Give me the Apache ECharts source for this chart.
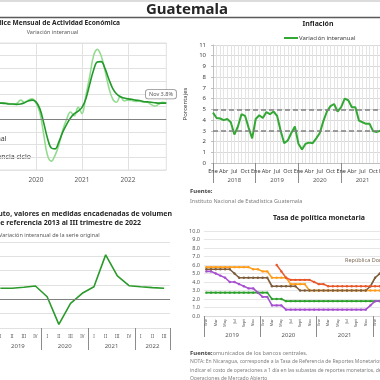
<!DOCTYPE html>
<html><head><meta charset="utf-8">
<script src="https://cdn.jsdelivr.net/npm/echarts@6/dist/echarts.min.js"></script>
<style>html,body{margin:0;padding:0;background:#fff}#c{width:380px;height:380px}</style>
</head><body><div id="c"></div>
<script>
const FONT = 'Noto Sans';

// ---- Panel 1: Índice Mensual de Actividad Económica (Jan 2019 - Nov 2022) ----
const imaeYears = ['2019', '2020', '2021', '2022'];
const imaeOriginal = [3.5, 4.0, 3.9, 3.8, 3.9, 3.6, 3.5, 3.7, 4.5, 4.0, 4.5, 4.8,
  3.8, 1.6, -3.5, -8.5, -9.9, -8.5, -6.0, -2.5, 0.0, 1.7, 0.8, 2.8,
  1.3, 5.5, 10.0, 14.9, 16.5, 15.0, 11.5, 7.5, 4.8, 4.0, 5.4, 4.3,
  4.5, 4.4, 4.2, 4.3, 4.0, 4.0, 3.5, 3.1, 3.5, 4.0, 3.8];
const imaeTrend = [3.7, 3.7, 3.8, 3.8, 3.7, 3.6, 3.6, 3.5, 3.6, 3.9, 4.3, 4.5,
  4.1, 2.5, -0.8, -4.5, -6.8, -7.0, -5.3, -3.0, -1.2, 0.3, 1.3, 1.9,
  2.8, 4.8, 8.2, 11.5, 13.5, 13.6, 12.0, 9.5, 7.3, 6.0, 5.3, 5.0,
  4.8, 4.7, 4.5, 4.4, 4.2, 4.1, 4.0, 3.9, 3.8, 3.8, 3.8];
const imaeLastLabel = 'Nov 3.8%';

// ---- Panel 2: Inflación (Jan 2018 - Dec 2021) ----
const inflYears = ['2018', '2019', '2020', '2021', '2022'];
const inflMonthNames = ['Ene', 'Feb', 'Mar', 'Abr', 'May', 'Jun', 'Jul', 'Ago', 'Sep', 'Oct', 'Nov', 'Dic'];
const inflation = [4.7, 4.2, 4.15, 4.0, 4.1, 3.8, 2.65, 3.4, 4.55, 4.4, 3.3, 2.3,
  4.1, 4.45, 4.2, 4.75, 4.55, 4.8, 4.4, 3.0, 1.85, 2.1, 2.8, 3.4,
  1.8, 1.25, 1.8, 1.9, 1.85, 2.3, 2.8, 3.9, 4.8, 5.3, 5.5, 4.8,
  5.2, 6.0, 5.85, 5.2, 5.2, 3.95, 3.8, 3.65, 3.65, 2.95, 2.9, 3.0];
const inflTargetBand = [3, 5];

// ---- Panel 3: PIB trimestral ----
const gdpYears = ['2019', '2020', '2021', '2022'];
const gdpQuarterCounts = [4, 4, 4, 3];
const quarterNames = ['I', 'II', 'III', 'IV'];
const gdp = [3.85, 3.85, 4.2, 4.65, 0.9, -8.75, -1.4, 2.1, 4.4, 15.5, 8.15, 4.75, 4.4, 4.1, 3.85];

// ---- Panel 4: Tasa de política monetaria (Jan 2019 - ) ----
const tpmYears = ['2019', '2020', '2021', '2022'];
const tpmMonthNames = ['Ene', 'Feb', 'Mar', 'Abr', 'May', 'Jun', 'Jul', 'Ago', 'Sept', 'Oct', 'Nov', 'Dic'];
const tpmHonduras = [5.75, 5.75, 5.75, 5.75, 5.75, 5.75, 5.75, 5.75, 5.75, 5.75, 5.5, 5.5,
  5.25, 5.25, 4.5, 4.5, 4.5, 4.5, 3.75, 3.75, 3.75, 3.75, 3.0, 3.0,
  3.0, 3.0, 3.0, 3.0, 3.0, 3.0, 3.0, 3.0, 3.0, 3.0, 3.0, 3.0, 3.0, 3.0];
const tpmRepDom = [5.5, 5.5, 5.5, 5.5, 5.5, 5.5, 5.0, 4.5, 4.5, 4.5, 4.5, 4.5,
  4.5, 4.5, 3.5, 3.5, 3.5, 3.5, 3.5, 3.5, 3.0, 3.0, 3.0, 3.0,
  3.0, 3.0, 3.0, 3.0, 3.0, 3.0, 3.0, 3.0, 3.0, 3.0, 3.0, 3.5, 4.5, 5.0];
const tpmCostaRica = [5.25, 5.25, 5.0, 4.75, 4.5, 4.0, 4.0, 3.75, 3.5, 3.25, 3.25, 2.75,
  2.25, 2.25, 1.25, 1.25, 1.25, 0.75, 0.75, 0.75, 0.75, 0.75, 0.75, 0.75,
  0.75, 0.75, 0.75, 0.75, 0.75, 0.75, 0.75, 0.75, 0.75, 0.75, 0.75, 1.25, 1.75, 1.75];
const tpmGuatemala = [2.75, 2.75, 2.75, 2.75, 2.75, 2.75, 2.75, 2.75, 2.75, 2.75, 2.75, 2.75,
  2.75, 2.75, 2.0, 2.0, 2.0, 1.75, 1.75, 1.75, 1.75, 1.75, 1.75, 1.75,
  1.75, 1.75, 1.75, 1.75, 1.75, 1.75, 1.75, 1.75, 1.75, 1.75, 1.75, 1.75, 1.75, 1.75];
const tpmNicaragua = [null, null, null, null, null, null, null, null, null, null, null, null,
  null, null, null, 6.0, 5.25, 4.5, 4.25, 4.25, 4.25, 4.25, 4.25, 4.0,
  3.75, 3.75, 3.5, 3.5, 3.5, 3.5, 3.5, 3.5, 3.5, 3.5, 3.5, 3.5, 3.5, 3.5];

// ---- categories ----
const imaeCats = [];
imaeYears.forEach(y => inflMonthNames.forEach(m => imaeCats.push(y + ' ' + m)));
imaeCats.length = imaeOriginal.length;
const inflCats = [];
inflYears.forEach(y => inflMonthNames.forEach(m => inflCats.push(y + ' ' + m)));
inflCats.push('2023 Ene');
const gdpCats = [];
gdpYears.forEach((y, k) => { for (let q = 0; q < gdpQuarterCounts[k]; q++) gdpCats.push(y + ' ' + quarterNames[q]); });
const tpmCats = [];
tpmYears.forEach(y => tpmMonthNames.forEach(m => tpmCats.push(y + ' ' + m)));

function yearTicks(counts) { const t = [0]; counts.forEach(c => t.push(t[t.length - 1] + c)); return t; }
function yearCenters(counts) { const t = yearTicks(counts); return counts.map((c, i) => t[i] + c / 2); }
const inflCounts = inflYears.map(() => 12);
const tpmCounts = tpmYears.map(() => 12);

const gridLine = '#e1e1e1';
const txt = '#404040';

const chart = echarts.init(document.getElementById('c'), null, { renderer: 'canvas' });

function yearAxis(gridIndex, counts, names, tickLen, labelMargin) {
  const ticks = yearTicks(counts), centers = yearCenters(counts);
  return {
    gridIndex, type: 'value', position: 'bottom', min: 0, max: ticks[ticks.length - 1],
    axisLine: { show: false },
    axisTick: { show: true, customValues: ticks, length: tickLen, lineStyle: { color: '#8c8c8c', width: 1 } },
    axisLabel: { show: true, customValues: centers, margin: labelMargin, fontSize: 6, color: '#595959', fontFamily: FONT, hideOverlap: false,
      formatter: v => { const i = centers.findIndex(c => Math.abs(c - v) < 1e-6); return i >= 0 ? names[i] : ''; } },
    splitLine: { show: false }
  };
}

const gridBase = { outerBoundsMode: 'none', containLabel: false };

const option = {
  animation: false,
  textStyle: { fontFamily: FONT },
  legend: {
    data: ['Variación interanual'], left: 284, top: 35, icon: 'rect', itemWidth: 14, itemHeight: 2, itemGap: 2,
    padding: 0, textStyle: { fontSize: 6, color: txt, fontFamily: FONT, padding: [0, 0, 0, -4] }
  },
  grid: [
    Object.assign({ left: -10, top: 43, width: 176.3, height: 127, show: true, borderColor: gridLine, borderWidth: 1 }, gridBase),
    Object.assign({ left: 213, top: 45, width: 213.6, height: 118 }, gridBase),
    Object.assign({ left: -5.5, top: 242, width: 175.5, height: 86 }, gridBase),
    Object.assign({ left: 204, top: 231, width: 225, height: 85 }, gridBase)
  ],
  xAxis: [
    { gridIndex: 0, type: 'category', boundaryGap: false, data: imaeCats,
      axisLine: { show: false }, axisTick: { show: false },
      axisLabel: { interval: i => i % 12 === 0, formatter: v => v.slice(0, 4), fontSize: 6.5, color: '#595959', margin: 7, hideOverlap: false },
      splitLine: { show: true, interval: i => i % 12 === 0, lineStyle: { color: gridLine } } },
    { gridIndex: 1, type: 'category', boundaryGap: false, data: inflCats,
      axisLine: { show: true, lineStyle: { color: '#bfbfbf' } }, axisTick: { show: false },
      axisLabel: { interval: i => i % 3 === 0, formatter: v => v.slice(5), fontSize: 5.5, color: txt, margin: 5, hideOverlap: false },
      splitLine: { show: true, interval: 0, lineStyle: { color: '#e4e4e4' } } },
    yearAxis(1, inflCounts, inflYears, 20, 14),
    { gridIndex: 2, type: 'category', boundaryGap: true, data: gdpCats,
      axisLine: { show: true, lineStyle: { color: '#d9d9d9' } }, axisTick: { show: false },
      axisLabel: { interval: 0, formatter: v => v.split(' ')[1], fontSize: 4.5, color: '#595959', margin: 6, hideOverlap: false },
      splitLine: { show: false } },
    yearAxis(2, gdpQuarterCounts, gdpYears, 22, 15),
    { gridIndex: 3, type: 'category', boundaryGap: true, data: tpmCats,
      axisLine: { show: true, lineStyle: { color: '#d9d9d9' } }, axisTick: { show: false },
      axisLabel: { interval: 1, rotate: 90, formatter: v => v.split(' ')[1], fontSize: 4, color: '#595959', margin: 3, hideOverlap: false },
      splitLine: { show: false } },
    yearAxis(3, tpmCounts, tpmYears, 21, 16)
  ],
  yAxis: [
    { gridIndex: 0, type: 'value', min: -12, max: 18, interval: 3,
      axisLabel: { show: false }, axisLine: { show: false }, axisTick: { show: false },
      splitLine: { lineStyle: { color: gridLine } } },
    { gridIndex: 1, type: 'value', min: 0, max: 11, interval: 1,
      axisLabel: { fontSize: 6, color: txt, margin: 7 },
      axisLine: { show: true, lineStyle: { color: '#bfbfbf' } }, axisTick: { show: true, length: 2, lineStyle: { color: '#bfbfbf' } },
      name: 'Porcentajes', nameLocation: 'middle', nameGap: 17, nameRotate: 90,
      nameTextStyle: { fontSize: 6, color: txt },
      splitLine: { lineStyle: { color: '#d9d9d9' } } },
    { gridIndex: 2, type: 'value', min: -10, max: 20, interval: 5,
      axisLabel: { show: false }, axisLine: { show: false }, axisTick: { show: false },
      splitLine: { lineStyle: { color: gridLine } } },
    { gridIndex: 3, type: 'value', min: 0, max: 10, interval: 1,
      axisLabel: { fontSize: 5.5, color: '#595959', margin: 4, formatter: v => v.toFixed(1) },
      axisLine: { show: false }, axisTick: { show: false },
      splitLine: { lineStyle: { color: '#e6e6e6' } } }
  ],
  series: [
    { name: 'Original', type: 'line', xAxisIndex: 0, yAxisIndex: 0, data: imaeOriginal, smooth: 0.4,
      symbol: 'none', lineStyle: { color: '#93dc8f', width: 1.6 }, z: 3,
      markLine: { silent: true, symbol: 'none', label: { show: false }, lineStyle: { color: '#808080', type: 'solid', width: 1 }, data: [{ yAxis: 0 }] } },
    { name: 'Tendencia ciclo', type: 'line', xAxisIndex: 0, yAxisIndex: 0, data: imaeTrend, smooth: 0.4,
      symbol: 'none', lineStyle: { color: '#22992a', width: 1.6 }, z: 4 },
    { name: 'Variación interanual', type: 'line', xAxisIndex: 1, yAxisIndex: 1, data: inflation,
      symbol: 'none', itemStyle: { color: '#34a834' }, lineStyle: { color: '#34a834', width: 2 }, z: 4,
      markLine: { silent: true, symbol: 'none', label: { show: false }, lineStyle: { color: '#808080', type: [5, 3], width: 1.5 },
        data: inflTargetBand.map(v => ({ yAxis: v })) } },
    { name: 'PIB', type: 'line', xAxisIndex: 3, yAxisIndex: 2, data: gdp,
      symbol: 'none', lineStyle: { color: '#2a9a2a', width: 1.6 }, z: 4,
      markLine: { silent: true, symbol: 'none', label: { show: false }, lineStyle: { color: '#808080', type: 'solid', width: 1 }, data: [{ yAxis: 0 }] } },
    ...[
      ['Guatemala', tpmGuatemala, '#2ca02c'],
      ['Costa Rica', tpmCostaRica, '#a64fd0'],
      ['Honduras', tpmHonduras, '#ff9d1c'],
      ['República Dominicana', tpmRepDom, '#7d5c3b'],
      ['Nicaragua', tpmNicaragua, '#e8582b']
    ].map(([n, d, c]) => ({
      name: n, type: 'line', xAxisIndex: 5, yAxisIndex: 3, data: d,
      symbol: 'circle', symbolSize: 2.4, showAllSymbol: true,
      itemStyle: { color: c }, lineStyle: { color: c, width: 1.6 }
    }))
  ],
  graphic: [
    { type: 'line', shape: { x1: 0, y1: 1, x2: 380, y2: 1 }, style: { stroke: '#d0d0d0', lineWidth: 1.5 } },
    { type: 'line', shape: { x1: 0, y1: 17.5, x2: 380, y2: 17.5 }, style: { stroke: '#5a5a5a', lineWidth: 1.5 } },
    { type: 'text', x: 187, y: 10, style: { text: 'Guatemala', font: 'bold 15px ' + FONT, fill: '#262626', align: 'center', verticalAlign: 'middle' } },
    { type: 'text', x: 120, y: 23.5, style: { text: 'Índice Mensual de Actividad Económica', font: 'bold 6.6px ' + FONT, fill: '#262626', align: 'right', verticalAlign: 'middle' } },
    { type: 'text', x: 52.5, y: 32.5, style: { text: 'Variación interanual', font: '5.5px ' + FONT, fill: '#595959', align: 'center', verticalAlign: 'middle' } },
    { type: 'text', x: 6.5, y: 139, style: { text: 'Original', font: '7px ' + FONT, fill: txt, align: 'right', verticalAlign: 'middle' } },
    { type: 'text', x: 31, y: 157, style: { text: 'Tendencia ciclo', font: '7px ' + FONT, fill: txt, align: 'right', verticalAlign: 'middle' } },
    { type: 'text', x: 146, y: 90, z: 10, style: { text: imaeLastLabel, font: '5.5px ' + FONT, fill: '#595959', align: 'left', verticalAlign: 'top',
      backgroundColor: '#fff', borderColor: '#8c8c8c', borderWidth: 0.8, borderRadius: 2, padding: [1.5, 3, 1, 3] } },
    { type: 'text', x: 318, y: 23.5, style: { text: 'Inflación', font: 'bold 7px ' + FONT, fill: '#262626', align: 'center', verticalAlign: 'middle' } },
    { type: 'text', x: 190, y: 191, style: { text: 'Fuente:', font: 'bold 6px ' + FONT, fill: txt, align: 'left', verticalAlign: 'middle' } },
    { type: 'text', x: 190, y: 201, style: { text: 'Instituto Nacional de Estadística Guatemala', font: '5.5px ' + FONT, fill: '#808080', align: 'left', verticalAlign: 'middle' } },
    { type: 'text', x: 319, y: 218, style: { text: 'Tasa de política monetaria', font: 'bold 7px ' + FONT, fill: '#262626', align: 'center', verticalAlign: 'middle' } },
    { type: 'text', x: 345, y: 260, style: { text: 'República Dominicana', font: '5.5px ' + FONT, fill: '#7d6a58', align: 'left', verticalAlign: 'middle' } },
    { type: 'text', x: 172, y: 214, style: { text: 'Producto Interno Bruto, valores en medidas encadenadas de volumen', font: 'bold 7px ' + FONT, fill: '#262626', align: 'right', verticalAlign: 'middle' } },
    { type: 'text', x: 141, y: 223, style: { text: 'con año de referencia 2013 al III trimestre de 2022', font: 'bold 7px ' + FONT, fill: '#262626', align: 'right', verticalAlign: 'middle' } },
    { type: 'text', x: -1, y: 235.5, style: { text: 'Variación interanual de la serie original', font: '5.5px ' + FONT, fill: '#595959', align: 'left', verticalAlign: 'middle' } },
    { type: 'text', x: 190, y: 353, style: { text: 'Fuente:', font: 'bold 6px ' + FONT, fill: txt, align: 'left', verticalAlign: 'middle' } },
    { type: 'text', x: 210, y: 353, style: { text: 'comunicados de los bancos centrales.', font: '5.5px ' + FONT, fill: '#808080', align: 'left', verticalAlign: 'middle' } },
    { type: 'text', x: 190, y: 362, style: { text: 'NOTA: En Nicaragua, corresponde a la Tasa de Referencia de Reportes Monetarios (TRM), la cual', font: '5px ' + FONT, fill: '#808080', align: 'left', verticalAlign: 'middle' } },
    { type: 'text', x: 190, y: 370.5, style: { text: 'indicar el costo de operaciones a 1 día en las subastas de reportes monetarios, definidas en', font: '5px ' + FONT, fill: '#808080', align: 'left', verticalAlign: 'middle' } },
    { type: 'text', x: 190, y: 378.5, style: { text: 'Operaciones de Mercado Abierto', font: '5px ' + FONT, fill: '#808080', align: 'left', verticalAlign: 'middle' } }
  ]
};
chart.setOption(option);
</script>
</body></html>
